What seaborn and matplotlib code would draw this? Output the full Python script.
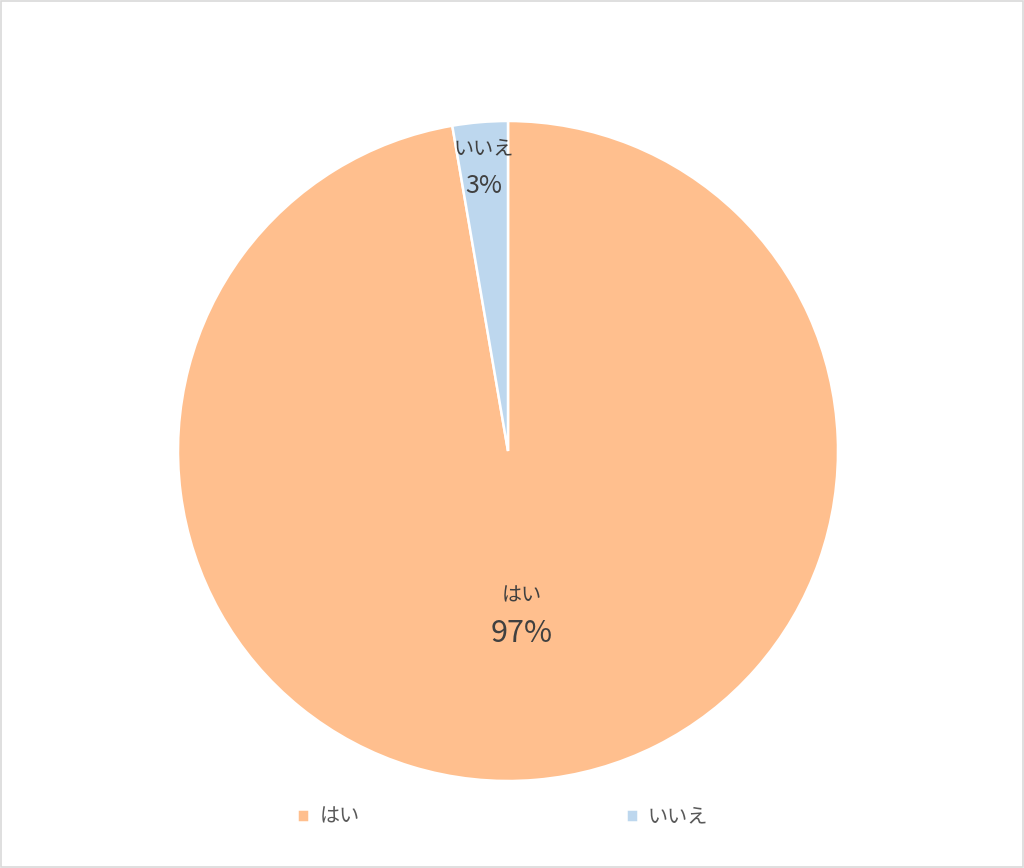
import matplotlib
matplotlib.use('Agg')
import numpy as np
import matplotlib.pyplot as plt
import seaborn as sns
from matplotlib.patches import Rectangle

# data
labels = ['はい', 'いいえ']
shares = [97.3, 2.7]
colors = ['#FFBF8E', '#BDD7EE']

sns.set_theme(style='white')
plt.rcParams['font.family'] = ['Noto Sans CJK JP', 'DejaVu Sans']

fig = plt.figure(figsize=(10.24, 8.68), dpi=100)
ax = fig.add_axes([178 / 1024, 87 / 868, 660 / 1024, 660 / 868])

wedges, _ = ax.pie(shares, colors=colors, startangle=90, counterclock=False,
                   radius=1, wedgeprops=dict(edgecolor='white', linewidth=1.8))
ax.set_xlim(-1, 1)
ax.set_ylim(-1, 1)
ax.set_aspect('equal')

# data labels placed inside each slice
dists = [0.5, 0.86]
name_sizes = [14.5, 14.5]
pct_sizes = [22, 18]
for w, lab, val, d, ns, ps in zip(wedges, labels, shares, dists, name_sizes, pct_sizes):
    mid = np.deg2rad((w.theta1 + w.theta2) / 2)
    x, y = d * np.cos(mid), d * np.sin(mid)
    ax.text(x, y + 0.058, lab, ha='center', va='center', fontsize=ns, color='#404040')
    ax.text(x, y - 0.055, f'{round(val):.0f}%', ha='center', va='center',
            fontsize=ps, color='#404040')

leg = fig.legend(wedges, labels, loc='center', bbox_to_anchor=(0.491, 0.059), ncol=2,
                 frameon=False, fontsize=14.5, handlelength=0.6, handleheight=0.6,
                 handletextpad=0.5, columnspacing=13.2, labelcolor='#595959')

fig.patches.append(Rectangle((0.001, 0.001), 0.998, 0.998, transform=fig.transFigure,
                             fill=False, edgecolor='#D9D9D9', linewidth=1.2))

plt.savefig('out.png', dpi=100, facecolor='white')
